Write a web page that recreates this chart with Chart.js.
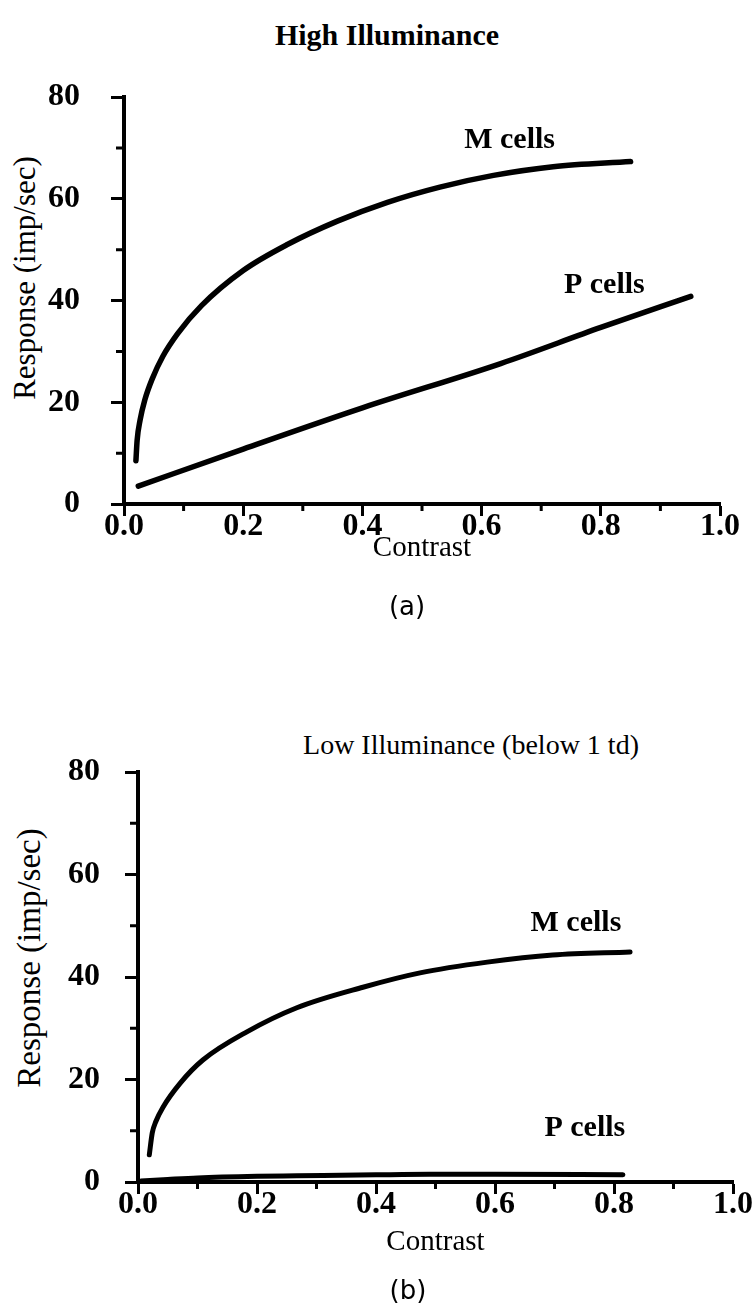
<!DOCTYPE html>
<html>
<head>
<meta charset="utf-8">
<title>M and P cell contrast response</title>
<script src="https://cdn.jsdelivr.net/npm/chart.js@4.4.0/dist/chart.umd.min.js"></script>
<style>
  body { margin: 0; background: #fff; }
  #page { position: relative; width: 752px; height: 1312px; overflow: hidden; background: #fff; }
  canvas { position: absolute; left: 0; }
  .txt { position: absolute; color: #000; white-space: nowrap; line-height: 1; transform: translate(-50%, -50%); }
  .vert { transform: translate(-50%, -50%) rotate(-90deg); }
  .serif { font-family: "Liberation Serif", "Times New Roman", serif; }
  .bold { font-weight: bold; }
  .sans { font-family: "DejaVu Sans", sans-serif; font-size: 26px; }
</style>
</head>
<body>
<div id="page">
  <div class="txt serif bold" style="left:387px; top:35px; font-size:30px;">High Illuminance</div>
  <div class="txt serif vert" style="left:24px; top:278px; font-size:31px;">Response (imp/sec)</div>
  <canvas id="chartA" width="752" height="650" style="top:0"></canvas>
  <div class="txt sans" style="left:407px; top:606px;">(a)</div>

  <div class="txt serif" style="left:471px; top:745px; font-size:28px;">Low Illuminance (below 1 td)</div>
  <div class="txt serif vert" style="left:29px; top:958px; font-size:33px;">Response (imp/sec)</div>
  <canvas id="chartB" width="752" height="662" style="top:650px"></canvas>
  <div class="txt sans" style="left:408px; top:1290px;">(b)</div>
</div>
<script>
// tick labels
const contrastTicks = [0.0, 0.2, 0.4, 0.6, 0.8, 1.0];
const responseTicks = [0, 20, 40, 60, 80];

// (a) high illuminance
const highMContrast = [0.020, 0.022, 0.027, 0.035, 0.047, 0.065, 0.090, 0.130, 0.200, 0.274, 0.358, 0.442, 0.530, 0.620, 0.720, 0.850];
const highMResponse = [8.5, 12.5, 16.5, 20.5, 24.5, 29.0, 33.5, 39.0, 45.9, 51.0, 55.6, 59.3, 62.3, 64.6, 66.3, 67.3];
const highPContrast = [0.024, 0.200, 0.400, 0.632, 0.800, 0.951];
const highPResponse = [3.5, 10.8, 18.9, 27.6, 34.7, 40.8];

// (b) low illuminance
const lowMContrast = [0.019, 0.024, 0.030, 0.042, 0.071, 0.109, 0.183, 0.267, 0.378, 0.474, 0.587, 0.697, 0.827];
const lowMResponse = [5.3, 9.6, 11.8, 14.6, 19.3, 23.8, 29.3, 34.0, 38.0, 40.8, 42.9, 44.3, 44.9];
const lowPContrast = [0.005, 0.050, 0.100, 0.200, 0.267, 0.400, 0.490, 0.600, 0.815];
const lowPResponse = [0.2, 0.5, 0.8, 1.1, 1.2, 1.4, 1.5, 1.5, 1.4];

const SERIF = '"Liberation Serif", "Times New Roman", serif';

function toPoints(xs, ys) {
    return xs.map((x, i) => ({ x: x, y: ys[i] }));
}

function isMajorX(v) {
    return contrastTicks.some(t => Math.abs(t - v) < 1e-6);
}

function isMajorY(v) {
    return responseTicks.includes(Math.round(v));
}

// shorter tick marks between the labelled ones
const minorTicks = {
    id: 'minorTicks',
    afterDraw(chart) {
        const ctx = chart.ctx;
        const x = chart.scales.x;
        const y = chart.scales.y;
        ctx.save();
        ctx.strokeStyle = '#000';
        ctx.lineWidth = 3;
        ctx.beginPath();
        x.ticks.forEach(t => {
            if (isMajorX(t.value)) return;
            const px = x.getPixelForValue(t.value);
            ctx.moveTo(px, x.top);
            ctx.lineTo(px, x.top + 7);
        });
        y.ticks.forEach(t => {
            if (isMajorY(t.value)) return;
            const py = y.getPixelForValue(t.value);
            ctx.moveTo(y.right, py);
            ctx.lineTo(y.right - 8, py);
        });
        ctx.stroke();
        ctx.restore();
    }
};

// "M cells" / "P cells" next to the curves
const curveLabels = {
    id: 'curveLabels',
    afterDatasetsDraw(chart, args, opts) {
        const ctx = chart.ctx;
        ctx.save();
        ctx.font = 'bold 30px ' + SERIF;
        ctx.fillStyle = '#000';
        ctx.textAlign = 'center';
        ctx.textBaseline = 'middle';
        opts.items.forEach(it => {
            ctx.fillText(it.text, chart.scales.x.getPixelForValue(it.x), chart.scales.y.getPixelForValue(it.y));
        });
        ctx.restore();
    }
};

function makePanel(id, cfg) {
    return new Chart(document.getElementById(id), {
        type: 'scatter',
        data: {
            datasets: [
                { label: 'M cells', data: cfg.m, showLine: true, borderColor: '#000', borderWidth: cfg.lineWidth,
                  pointRadius: 0, cubicInterpolationMode: 'monotone', borderCapStyle: 'round' },
                { label: 'P cells', data: cfg.p, showLine: true, borderColor: '#000', borderWidth: cfg.lineWidth,
                  pointRadius: 0, cubicInterpolationMode: 'monotone', borderCapStyle: 'round' }
            ]
        },
        options: {
            responsive: false,
            animation: false,
            devicePixelRatio: 1,
            layout: { padding: { top: cfg.top, left: 0, right: cfg.right, bottom: 0 } },
            plugins: {
                legend: { display: false },
                tooltip: { enabled: false },
                curveLabels: { items: cfg.labels }
            },
            scales: {
                x: {
                    type: 'linear',
                    min: 0,
                    max: 1,
                    afterFit: s => { s.height = cfg.xHeight; },
                    border: { display: true, width: 4, color: '#000' },
                    grid: {
                        drawOnChartArea: false,
                        drawTicks: true,
                        tickLength: 12,
                        tickWidth: 3,
                        tickColor: c => (c.tick && isMajorX(c.tick.value)) ? '#000' : 'rgba(0,0,0,0)'
                    },
                    ticks: {
                        stepSize: 0.1,
                        autoSkip: false,
                        maxRotation: 0,
                        padding: -5,
                        color: '#000',
                        font: { family: SERIF, size: 32, weight: 'bold', lineHeight: 1 },
                        callback: v => isMajorX(v) ? v.toFixed(1) : ''
                    },
                    title: {
                        display: true,
                        text: 'Contrast',
                        color: '#000',
                        font: { family: SERIF, size: 29, lineHeight: 1.2 },
                        padding: { top: 0, bottom: cfg.xTitlePad }
                    }
                },
                y: {
                    type: 'linear',
                    min: 0,
                    max: 80,
                    afterFit: s => { s.width = cfg.left; },
                    border: { display: true, width: 4, color: '#000' },
                    grid: {
                        drawOnChartArea: false,
                        drawTicks: true,
                        tickLength: 13,
                        tickWidth: 3,
                        tickColor: c => (c.tick && isMajorY(c.tick.value)) ? '#000' : 'rgba(0,0,0,0)'
                    },
                    ticks: {
                        stepSize: 10,
                        autoSkip: false,
                        padding: cfg.yTickPad,
                        color: '#000',
                        font: { family: SERIF, size: 32, weight: 'bold', lineHeight: 1 },
                        callback: v => isMajorY(v) ? String(v) : ''
                    },
                    title: { display: false }
                }
            }
        },
        plugins: [minorTicks, curveLabels]
    });
}

makePanel('chartA', {
    m: toPoints(highMContrast, highMResponse),
    p: toPoints(highPContrast, highPResponse),
    lineWidth: 5.5,
    top: 97, left: 124, right: 32, xHeight: 146,
    xTitlePad: 84, yTickPad: 31,
    labels: [
        { text: 'M cells', x: 0.647, y: 71.5 },
        { text: 'P cells', x: 0.806, y: 43.0 }
    ]
});

makePanel('chartB', {
    m: toPoints(lowMContrast, lowMResponse),
    p: toPoints(lowPContrast, lowPResponse),
    lineWidth: 5,
    top: 122, left: 138, right: 19, xHeight: 130,
    xTitlePad: 52, yTickPad: 25,
    labels: [
        { text: 'M cells', x: 0.736, y: 50.5 },
        { text: 'P cells', x: 0.751, y: 10.5 }
    ]
});
</script>
</body>
</html>
